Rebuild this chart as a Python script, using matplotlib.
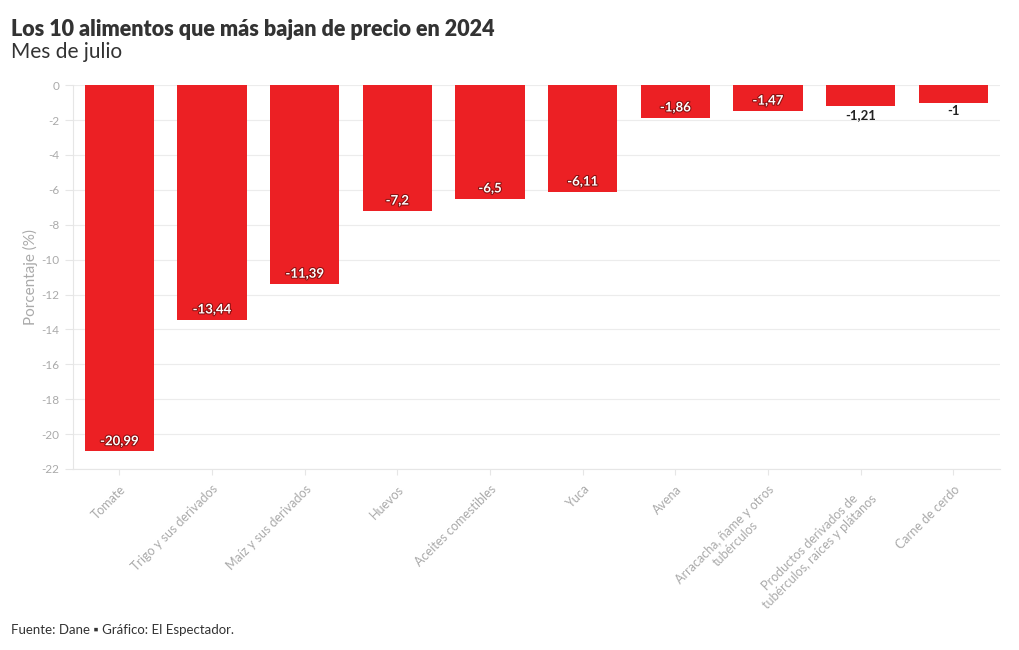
import matplotlib.pyplot as plt
import matplotlib.patheffects as pe
import numpy as np

categorias = ["Tomate", "Trigo y sus derivados", "Maíz y sus derivados", "Huevos",
              "Aceites comestibles", "Yuca", "Avena",
              "Arracacha, ñame y otros\ntubérculos",
              "Productos derivados de\ntubérculos, raíces y plátanos",
              "Carne de cerdo"]
variacion = [-20.99, -13.44, -11.39, -7.2, -6.5, -6.11, -1.86, -1.47, -1.21, -1.0]
etiquetas = ["-20,99", "-13,44", "-11,39", "-7,2", "-6,5", "-6,11", "-1,86", "-1,47", "-1,21", "-1"]
yticks = list(range(0, -23, -2))

plt.rcParams['font.family'] = ['Lato', 'DejaVu Sans']

fig = plt.figure(figsize=(10.2, 6.5), dpi=100)
ax = fig.add_axes([0.0716, 0.2785, 0.9084, 0.5905])

x = np.arange(len(categorias))
bars = ax.bar(x, variacion, width=0.75, color="#EC2024", zorder=3)

for xi, v, t in zip(x, variacion, etiquetas):
    if v <= -1.4:
        ax.annotate(t, (xi, v), xytext=(0, 3), textcoords="offset points",
                    ha="center", va="bottom", fontsize=9.5, fontweight="bold",
                    color="white", zorder=4,
                    path_effects=[pe.withStroke(linewidth=1.5, foreground="#8a1010")])
    else:
        ax.annotate(t, (xi, v), xytext=(0, -2), textcoords="offset points",
                    ha="center", va="top", fontsize=9.5, fontweight="bold",
                    color="#222222", zorder=4)

ax.set_ylim(-22, 0)
ax.set_xlim(-0.5, len(categorias) - 0.5)
ax.set_yticks(yticks)
ax.set_yticklabels([str(t) for t in yticks], color="#aaaaaa", fontsize=8.5)
ax.set_xticks(x)
ax.set_xticklabels(categorias, rotation=45, ha="right", rotation_mode="anchor",
                   color="#aaaaaa", fontsize=9, multialignment="center")
ax.tick_params(axis="x", length=4, color="#e6e6e6", pad=6)
ax.tick_params(axis="y", length=6, color="#e6e6e6", pad=4)
ax.grid(axis="y", color="#ececec", linewidth=0.8, zorder=0)
for s in ["top", "right"]:
    ax.spines[s].set_visible(False)
for s in ["left", "bottom"]:
    ax.spines[s].set_color("#e6e6e6")
ax.set_ylabel("Porcentaje (%)", color="#aaaaaa", fontsize=11, labelpad=2)

fig.text(0.011, 0.945, "Los 10 alimentos que más bajan de precio en 2024",
         fontsize=15.5, fontweight="heavy", color="#333333", va="baseline")
fig.text(0.011, 0.91, "Mes de julio", fontsize=15, color="#333333", va="baseline")
fig.text(0.011, 0.024, "Fuente: Dane \u25aa Gráfico: El Espectador.", fontsize=9.5,
         color="#333333", va="baseline")

fig.savefig("out.png", dpi=100)
